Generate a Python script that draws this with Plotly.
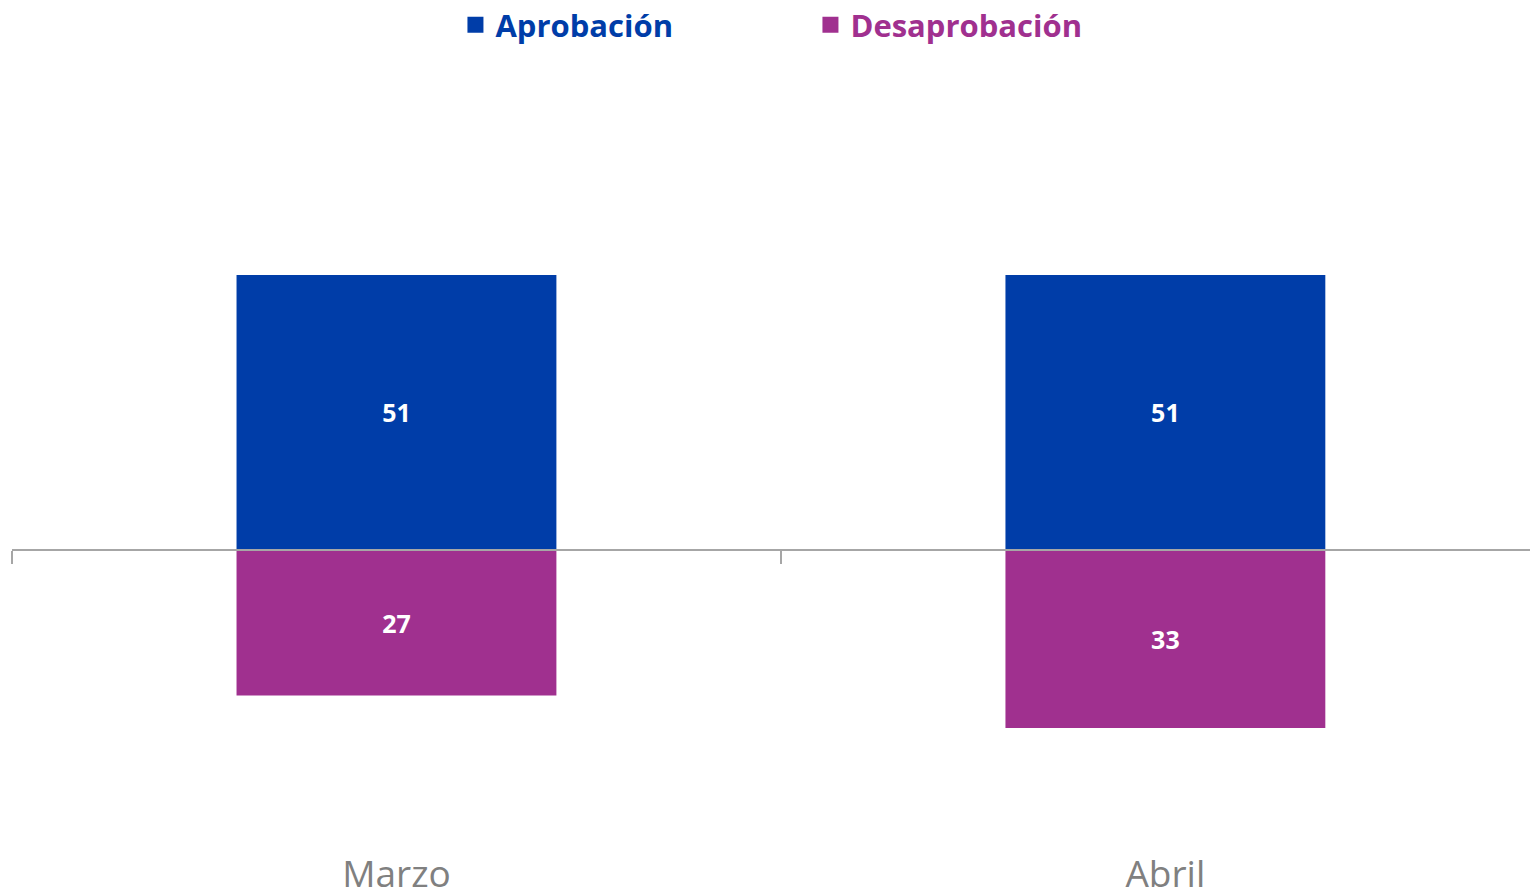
import plotly.graph_objects as go

# Datos
meses = ["Marzo", "Abril"]
aprobacion = [51, 51]
desaprobacion = [27, 33]

azul = "#003DA8"
morado = "#A0308F"

fig = go.Figure()

fig.add_trace(go.Bar(x=meses, y=aprobacion, name="Aprobación",
                     marker=dict(color=azul, line=dict(width=0)),
                     text=aprobacion, textposition="inside",
                     insidetextanchor="middle", showlegend=False))
fig.add_trace(go.Bar(x=meses, y=[-v for v in desaprobacion], name="Desaprobación",
                     marker=dict(color=morado, line=dict(width=0)),
                     text=desaprobacion, textposition="inside",
                     insidetextanchor="middle", showlegend=False))

# leyenda con cuadrados grandes (trazas vacías)
for nombre, color in [("Aprobación", azul), ("Desaprobación", morado)]:
    fig.add_trace(go.Scatter(x=[None], y=[None], mode="markers",
                             name=f"<span style='color:{color}'><b>{nombre}</b></span>",
                             marker=dict(symbol="square", size=20, color=color)))

ymin, ymax = -53.78, 90.87
pos0 = -ymin / (ymax - ymin)

fig.update_traces(selector=dict(type="bar"),
                  textfont=dict(family="Open Sans", size=25, color="white", weight="bold"),
                  width=0.416)

fig.update_layout(
    width=1538, height=893,
    margin=dict(l=4, r=0, t=52, b=61, autoexpand=False),
    paper_bgcolor="white", plot_bgcolor="white",
    barmode="relative",
    font=dict(family="Open Sans"),
    showlegend=True,
    legend=dict(orientation="h", x=0.5205, xanchor="center", y=1 + 35 / 780, yanchor="middle",
                font=dict(size=31), entrywidth=310, itemsizing="trace"),
    xaxis=dict(range=[-0.5, 1.495], anchor="free", position=pos0,
               showline=True, linecolor="#A6A6A6", linewidth=2,
               ticks="outside", tickson="boundaries", ticklen=13, tickwidth=2,
               tickcolor="#A6A6A6", showgrid=False,
               tickfont=dict(size=37, color="#808080"), ticklabelstandoff=292),
    yaxis=dict(range=[ymin, ymax], visible=False, showgrid=False, zeroline=False),
)

fig.write_html("out.html")
